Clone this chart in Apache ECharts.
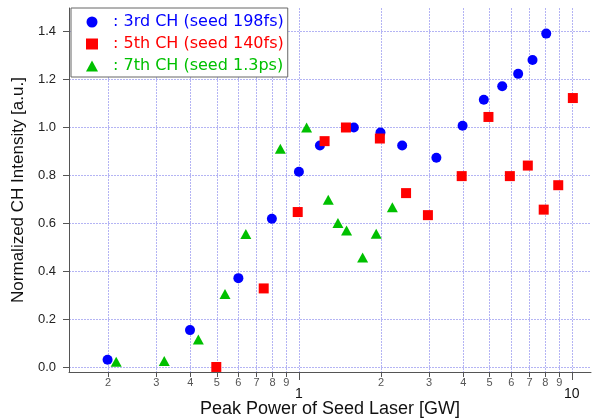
<!DOCTYPE html>
<html>
<head>
<meta charset="utf-8">
<script src="https://cdn.jsdelivr.net/npm/echarts@6/dist/echarts.min.js"></script>
<style>
  html, body { margin: 0; padding: 0; background: #fff; }
  #chart { width: 592px; height: 420px; }
</style>
</head>
<body>
<div id="chart"></div>
<script>
// Peak power [GW] and normalized intensity
const thirdX = [0.199, 0.399, 0.600, 0.796, 1.0, 1.194, 1.59, 1.99, 2.39, 3.19, 3.98, 4.76, 5.56, 6.36, 7.18, 8.06];
const thirdY = [0.030, 0.154, 0.371, 0.619, 0.815, 0.925, 1.0, 0.979, 0.925, 0.874, 1.007, 1.116, 1.172, 1.224, 1.282, 1.392];

const fifthX = [0.498, 0.743, 0.99, 1.242, 1.487, 1.98, 2.47, 2.97, 3.95, 4.95, 5.93, 6.90, 7.89, 8.92, 10.09];
const fifthY = [0.0, 0.328, 0.647, 0.943, 1.0, 0.954, 0.726, 0.634, 0.797, 1.044, 0.797, 0.841, 0.657, 0.759, 1.123];

const seventhX = [0.214, 0.321, 0.428, 0.536, 0.639, 0.855, 1.067, 1.281, 1.39, 1.495, 1.712, 1.92, 2.20];
const seventhY = [0.022, 0.025, 0.115, 0.305, 0.555, 0.911, 1.0, 0.698, 0.601, 0.570, 0.457, 0.556, 0.667];

const seriesNames = [': 3rd CH (seed 198fs)', ': 5th CH (seed 140fs)', ': 7th CH (seed 1.3ps)'];

// tick values on the log axis
const minorTicks = [0.2, 0.3, 0.4, 0.5, 0.6, 0.7, 0.8, 0.9, 2, 3, 4, 5, 6, 7, 8, 9];
const majorTicks = [1, 10];
const yTicks = [0, 0.2, 0.4, 0.6, 0.8, 1.0, 1.2, 1.4];

const X_MIN = 0.1437, X_MAX = 11.76;
const Y_MIN = -0.021, Y_MAX = 1.499;

const lg = v => Math.log10(v);
const pairs = (xs, ys) => xs.map((x, i) => [lg(x), ys[i]]);
const allTicks = minorTicks.concat(majorTicks).sort((a, b) => a - b).map(lg);

const gridLine = { show: true, lineStyle: { color: '#b4b4f4', type: [2, 1], width: 1 } };

const chart = echarts.init(document.getElementById('chart'), null, { renderer: 'canvas' });
chart.setOption({
  animation: false,
  backgroundColor: '#ffffff',
  grid: { left: 69, right: 1, top: 8, bottom: 48, outerBoundsMode: 'none', containLabel: false },
  legend: {
    orient: 'vertical',
    left: 71,
    top: 8,
    padding: [6, 4, 3, 15],
    itemGap: 6,
    itemWidth: 12,
    itemHeight: 11,
    borderColor: '#666',
    borderWidth: 1,
    backgroundColor: '#fff',
    textStyle: { fontFamily: 'DejaVu Sans', fontSize: 16, lineHeight: 14, width: 170, padding: [0, 0, 0, 10] },
    data: [
      { name: seriesNames[0], icon: 'circle', textStyle: { color: '#0000ff' } },
      { name: seriesNames[1], icon: 'rect', textStyle: { color: '#ff0000' } },
      { name: seriesNames[2], icon: 'triangle', textStyle: { color: '#00c000' } }
    ]
  },
  xAxis: [
    {
      type: 'value',
      min: lg(X_MIN),
      max: lg(X_MAX),
      position: 'bottom',
      name: 'Peak Power of Seed Laser [GW]',
      nameLocation: 'middle',
      nameGap: 28,
      nameTextStyle: { fontFamily: 'Liberation Sans', fontSize: 18, color: '#111' },
      axisLine: { show: true, onZero: false, lineStyle: { color: '#555', width: 1 } },
      axisTick: { show: true, length: 5, customValues: allTicks, lineStyle: { color: '#555' } },
      axisLabel: {
        customValues: minorTicks.map(lg),
        margin: 5,
        fontFamily: 'Liberation Sans',
        fontSize: 11,
        color: '#555',
        formatter: v => {
          const t = Math.pow(10, v);
          return String(Math.round(t < 1 ? t * 10 : t));
        }
      },
      splitLine: gridLine
    },
    {
      type: 'value',
      min: lg(X_MIN),
      max: lg(X_MAX),
      position: 'bottom',
      offset: 0,
      axisLine: { show: false, onZero: false },
      axisTick: { show: true, length: 8, customValues: majorTicks.map(lg), lineStyle: { color: '#555' } },
      axisLabel: {
        customValues: majorTicks.map(lg),
        margin: 15,
        fontFamily: 'Liberation Sans',
        fontSize: 14,
        color: '#111',
        formatter: v => String(Math.round(Math.pow(10, v)))
      },
      splitLine: { show: false }
    }
  ],
  yAxis: {
    type: 'value',
    min: Y_MIN,
    max: Y_MAX,
    name: 'Normalized CH Intensity [a.u.]',
    nameLocation: 'middle',
    nameGap: 42,
    nameTextStyle: { fontFamily: 'Liberation Sans', fontSize: 17, color: '#111' },
    axisLine: { show: true, onZero: false, lineStyle: { color: '#555', width: 1 } },
    axisTick: { show: true, length: 6, customValues: yTicks, lineStyle: { color: '#555' } },
    axisLabel: {
      customValues: yTicks,
      margin: 13,
      fontFamily: 'Liberation Sans',
      fontSize: 13,
      color: '#222',
      formatter: v => v.toFixed(1)
    },
    splitLine: gridLine
  },
  series: [
    {
      name: seriesNames[0],
      type: 'scatter',
      symbol: 'circle',
      symbolSize: 10,
      itemStyle: { color: '#0000ff', opacity: 1 },
      data: pairs(thirdX, thirdY)
    },
    {
      name: seriesNames[1],
      type: 'scatter',
      symbol: 'rect',
      symbolSize: 10,
      itemStyle: { color: '#ff0000', opacity: 1 },
      data: pairs(fifthX, fifthY)
    },
    {
      name: seriesNames[2],
      type: 'scatter',
      symbol: 'triangle',
      symbolSize: [11, 10],
      itemStyle: { color: '#00c000', opacity: 1 },
      data: pairs(seventhX, seventhY)
    }
  ]
});
</script>
</body>
</html>
